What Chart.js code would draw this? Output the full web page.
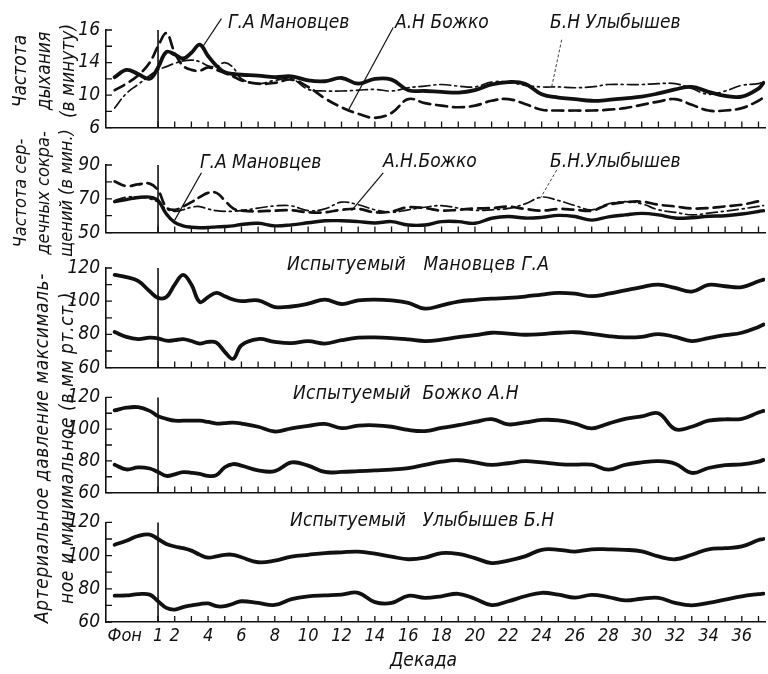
<!DOCTYPE html>
<html lang="ru">
<head>
<meta charset="utf-8">
<script src="https://cdn.jsdelivr.net/npm/chart.js@4"></script>
<style>
  html, body { margin: 0; padding: 0; background: #fff; }
  #wrap { position: relative; width: 768px; height: 674px; overflow: hidden; background: #fff; }
  canvas { position: absolute; left: 0; }
  .t { position: absolute; font-family: 'Liberation Sans Narrow', 'DejaVu Sans Condensed', sans-serif; font-style: italic; color: #111; white-space: pre; line-height: 1; }
  .rot { position: absolute; font-family: 'Liberation Sans Narrow', 'DejaVu Sans Condensed', sans-serif; font-style: italic; color: #111; white-space: pre; text-align: center; transform: translate(-50%, -50%) rotate(-90deg); }
</style>
</head>
<body>
<div id="wrap">
  <canvas id="c1" width="768" height="145" style="top:0px"></canvas>
  <canvas id="c2" width="768" height="105" style="top:145px"></canvas>
  <canvas id="c3" width="768" height="135" style="top:250px"></canvas>
  <canvas id="c4" width="768" height="130" style="top:380px"></canvas>
  <canvas id="c5" width="768" height="169" style="top:505px"></canvas>

  <div class="rot" style="left:43px; top:71px; font-size:19px; line-height:24px;">Частота
дыхания
(в минуту)</div>
  <div class="rot" style="left:42px; top:193px; font-size:18px; line-height:23px;">Частота сер-
дечных сокра-
щений (в мин.)</div>
  <div class="rot" style="left:54px; top:448px; font-size:19px; line-height:25px; letter-spacing:0.6px;">Артериальное давление максималь-
ное и минимальное (в мм рт.ст.)</div>

  <div class="t" style="left:228px; top:12px; font-size:19px;">Г.А Мановцев</div>
  <div class="t" style="left:395px; top:12px; font-size:19px;">А.Н Божко</div>
  <div class="t" style="left:550px; top:12px; font-size:19px;">Б.Н Улыбышев</div>

  <div class="t" style="left:200px; top:152px; font-size:19px;">Г.А Мановцев</div>
  <div class="t" style="left:383px; top:151px; font-size:19px;">А.Н.Божко</div>
  <div class="t" style="left:550px; top:151px; font-size:19px;">Б.Н.Улыбышев</div>

  <div class="t" style="left:287px; top:254px; font-size:19px; letter-spacing:0.4px;">Испытуемый   Мановцев Г.А</div>
  <div class="t" style="left:293px; top:383px; font-size:19px; letter-spacing:0.3px;">Испытуемый  Божко А.Н</div>
  <div class="t" style="left:290px; top:510px; font-size:19px; letter-spacing:0.1px;">Испытуемый   Улыбышев Б.Н</div>
  <div class="t" style="left:390px; top:650px; font-size:19px;">Декада</div>
</div>
<script>
// ---------- DATA ----------
const decades = [-1.6,-0.9,-0.2,0.5,1,1.5,2,2.5,3,3.5,4,4.5,5,5.5,6,7,8,9,10,11,12,13,14,15,16,17,18,19,20,21,22,23,24,25,26,27,28,29,30,31,32,33,34,35,36,37,37.3];

// Частота дыхания (в минуту)
const breathManovtsev = [12.2,13.1,12.6,12.0,13.4,15.3,15.0,14.5,15.2,16.2,14.8,13.6,12.8,12.6,12.5,12.4,12.2,12.3,11.8,11.7,12.1,11.4,12.0,11.9,10.6,10.5,10.4,10.3,10.6,11.3,11.6,11.4,10.1,9.7,9.5,9.3,9.4,9.6,9.8,10.2,10.7,11.0,10.4,9.9,9.8,10.8,11.5];
const breathBozhko    = [10.6,11.4,12.4,14.0,16.0,17.6,15.2,13.6,13.1,13.0,13.4,13.1,12.7,12.3,11.8,11.4,11.5,11.9,11.0,9.6,8.5,7.7,7.2,7.8,9.5,9.0,8.7,8.5,8.7,9.3,9.5,8.9,8.2,8.1,8.1,8.1,8.2,8.4,8.8,9.2,9.5,8.8,8.1,8.1,8.4,9.3,9.7];
const breathUlybyshev = [8.4,10.2,11.3,12.4,13.1,13.5,13.9,14.2,14.3,14.1,13.6,13.5,14.0,13.4,12.0,11.4,11.8,12.0,10.7,10.5,10.5,10.6,10.7,10.5,10.9,11.1,11.3,11.1,11.0,11.6,11.6,11.2,11.0,11.0,10.9,11.0,11.3,11.3,11.3,11.4,11.4,10.8,10.1,10.5,11.2,11.4,11.7];

// Частота сердечных сокращений (в мин.)
const pulseManovtsev = [68.3,69.5,70.8,71.0,69.0,61.0,56.0,54.0,53.2,52.9,53.0,53.4,53.6,54.0,54.8,55.5,54.0,54.6,55.8,57.0,57.0,56.5,55.7,56.5,54.5,54.5,56.5,56.5,55.5,58.5,59.5,58.6,59.0,60.2,59.5,57.4,59.3,60.5,61.4,60.5,58.6,58.8,59.7,60.0,61.0,62.5,63.0];
const pulseBozhko    = [80.3,77.5,78.5,79.0,75.0,65.0,63.5,65.4,68.0,71.0,73.5,73.5,69.0,64.3,63.0,62.6,63.0,63.2,62.0,62.0,63.5,64.0,62.0,62.5,65.0,64.5,63.0,63.5,64.3,64.5,65.4,64.0,63.0,64.0,63.5,63.0,66.5,68.0,68.3,66.5,65.5,64.3,64.5,65.5,66.5,68.5,69.0];
const pulseUlybyshev = [69.0,71.0,71.0,70.0,68.0,64.0,62.6,63.5,65.0,65.4,64.0,63.0,62.6,62.6,63.0,64.5,65.8,65.8,63.0,64.0,68.0,66.5,63.5,62.0,63.5,65.0,66.0,64.5,63.2,63.5,64.3,67.0,71.0,69.0,66.0,63.5,67.0,68.3,67.0,63.5,62.0,60.5,61.5,62.7,64.0,65.5,66.0];

// Артериальное давление (мм рт. ст.): максимальное / минимальное
const bpMaxManovtsev = [115.9,114.5,112.2,106.0,102.0,102.5,110.0,115.9,110.0,99.5,102.5,105.0,103.0,101.0,100.0,100.5,96.5,96.8,98.5,101.0,98.3,100.5,101.0,100.5,99.0,95.5,97.5,99.8,100.8,101.5,102.0,102.8,104.0,105.0,104.5,103.0,104.5,106.5,108.5,110.0,108.0,105.8,109.8,109.0,108.5,112.0,113.0];
const bpMinManovtsev = [81.4,78.5,77.2,78.0,77.6,76.2,76.5,77.2,76.0,74.5,75.5,75.0,69.5,65.3,73.5,77.2,75.5,74.8,76.0,74.5,76.5,78.0,78.2,77.8,77.0,76.0,76.8,78.4,79.5,81.0,80.5,79.8,80.2,81.0,81.3,80.3,79.0,78.2,78.5,80.2,78.5,76.0,77.8,79.5,81.0,84.5,86.0];
const bpMaxBozhko    = [111.8,113.5,113.8,111.5,108.2,106.5,105.3,105.3,105.3,105.3,104.5,103.5,103.8,104.1,103.5,101.5,98.5,100.5,102.0,103.3,100.6,102.2,102.4,101.5,99.5,98.8,100.8,102.5,104.5,106.3,103.0,104.2,105.8,105.5,103.5,100.5,103.5,106.5,108.0,110.0,100.0,101.5,105.3,106.2,106.5,110.5,111.5];
const bpMinBozhko    = [77.6,74.6,75.9,75.2,73.0,70.5,71.5,72.9,72.5,71.8,70.5,71.0,76.0,78.0,77.0,74.0,73.5,79.0,77.0,73.0,73.0,73.5,74.0,74.5,75.5,77.5,79.5,80.4,79.0,77.5,78.5,79.8,79.0,78.0,77.6,77.6,74.5,77.5,79.0,79.8,78.2,72.4,75.5,77.3,77.8,79.5,80.6];
const bpMaxUlybyshev = [106.5,109.0,111.8,112.7,110.0,107.0,105.5,104.5,103.0,100.5,98.8,99.5,100.5,100.5,99.0,96.0,97.0,99.4,100.5,101.5,102.0,102.4,101.2,99.4,97.8,98.8,101.5,101.0,98.5,95.5,97.0,99.5,103.5,103.5,102.4,103.8,103.8,103.5,102.5,99.5,97.8,100.5,103.8,104.5,105.5,109.4,110.0];
const bpMinUlybyshev = [75.9,76.0,76.8,76.5,72.5,68.5,67.5,69.0,70.0,70.8,71.2,69.5,69.5,71.0,72.5,71.5,70.3,73.8,75.5,76.0,76.5,77.6,72.0,71.5,75.8,74.5,75.5,77.0,74.0,70.2,72.5,75.5,77.6,76.5,74.7,76.3,75.0,73.0,74.0,74.5,71.5,70.0,71.5,73.5,75.5,76.8,77.1];

// Tick values and labels
const xTickValues = [-1,1,2,4,6,8,10,12,14,16,18,20,22,24,26,28,30,32,34,36];
const xTickLabels = ['Фон','1','2','4','6','8','10','12','14','16','18','20','22','24','26','28','30','32','34','36'];
const xMarkDecades = [1,2,3,4,5,6,7,8,9,10,11,12,13,14,15,16,17,18,19,20,21,22,23,24,25,26,27,28,29,30,31,32,33,34,35,36,37];
const breathTicks = [6,8,10,12,14,16,18];
const breathTickLabels = ['6','','10','','14','','16'];
const pulseTicks = [50,60,70,80,90];
const pulseTickLabels = ['50','','70','','90'];
const bpTicks = [60,70,80,90,100,110,120];
const bpTickLabels = ['60','','80','','100','','120'];
const startDecade = 1;

// Leader lines (label anchor -> curve point), in data units
const breathLeaders = [
  {x0: 4.8, y0: 19.4, x1: 3.7, y1: 16.0},
  {x0: 15.1, y0: 18.3, x1: 12.4, y1: 8.1},
  {x0: 25.2, y0: 16.8, x1: 24.6, y1: 11.0, thin: true}
];
const pulseLeaders = [
  {x0: 3.6, y0: 85.4, x1: 2.0, y1: 57.4},
  {x0: 14.5, y0: 85.4, x1: 12.6, y1: 63.0},
  {x0: 24.9, y0: 87.0, x1: 23.9, y1: 70.0, thin: true}
];

// ---------- RENDERING ----------
const FONT = "'Liberation Sans Narrow', 'DejaVu Sans Condensed', sans-serif";
const INK = '#111';
const pts = arr => arr.map((v, i) => ({x: decades[i], y: v}));

const decor = {
  id: 'decor',
  afterDraw(chart, args, opts) {
    const ctx = chart.ctx, xs = chart.scales.x, ys = chart.scales.y, a = chart.chartArea;
    ctx.save();
    ctx.strokeStyle = INK;
    ctx.lineWidth = 1.3;
    ctx.beginPath();
    xMarkDecades.forEach(d => {
      const px = xs.getPixelForValue(d);
      ctx.moveTo(px, a.bottom); ctx.lineTo(px, a.bottom - 6);
    });
    (opts.yTicks || []).forEach(v => {
      const py = ys.getPixelForValue(v);
      ctx.moveTo(a.left, py); ctx.lineTo(a.left + 6, py);
    });
    ctx.stroke();
    ctx.lineWidth = 1.6;
    ctx.beginPath();
    const vx = xs.getPixelForValue(startDecade);
    ctx.moveTo(vx, a.top); ctx.lineTo(vx, a.bottom);
    ctx.stroke();
    (opts.leaders || []).forEach(l => {
      ctx.lineWidth = l.thin ? 0.8 : 1.2;
      ctx.setLineDash(l.thin ? [3, 2] : []);
      ctx.beginPath();
      ctx.moveTo(xs.getPixelForValue(l.x0), ys.getPixelForValue(l.y0));
      ctx.lineTo(xs.getPixelForValue(l.x1), ys.getPixelForValue(l.y1));
      ctx.stroke();
    });
    ctx.restore();
  }
};

function makeChart(id, cfg) {
  const last = !!cfg.last;
  return new Chart(document.getElementById(id), {
    type: 'line',
    data: { datasets: cfg.datasets },
    plugins: [decor],
    options: {
      responsive: false,
      animation: false,
      devicePixelRatio: 1,
      layout: { padding: { left: 0, right: 3, top: cfg.pt, bottom: cfg.pb } },
      plugins: {
        legend: { display: false },
        tooltip: { enabled: false },
        decor: { yTicks: cfg.yTicks, leaders: cfg.leaders || [] }
      },
      elements: { point: { radius: 0 }, line: { tension: 0.4, borderCapStyle: 'round', borderJoinStyle: 'round' } },
      scales: {
        x: {
          type: 'linear', min: -2.12, max: 37.39,
          afterFit: s => { s.height = last ? 52 : 0; },
          afterBuildTicks: s => { s.ticks = xTickValues.map(v => ({value: v})); },
          grid: { display: false, drawTicks: false },
          border: { display: true, color: INK, width: 1.6 },
          ticks: {
            display: last, autoSkip: false, maxRotation: 0, padding: 4, color: INK,
            font: { family: FONT, size: 18, style: 'italic' },
            callback: (v, i) => xTickLabels[i]
          }
        },
        y: {
          type: 'linear', min: cfg.yTicks[0], max: cfg.yTicks[cfg.yTicks.length - 1],
          afterFit: s => { s.width = 106; },
          afterBuildTicks: s => { s.ticks = cfg.yTicks.map(v => ({value: v})); },
          grid: { display: false, drawTicks: false },
          border: { display: true, color: INK, width: 1.6 },
          ticks: {
            padding: 6, color: INK, autoSkip: false,
            font: { family: FONT, size: 19, style: 'italic' },
            callback: (v, i) => cfg.yLabels[i]
          }
        }
      }
    }
  });
}

const solid  = (data, w) => ({ data: pts(data), borderColor: INK, borderWidth: w || 3.8, fill: false });
const dashed = (data) => ({ data: pts(data), borderColor: INK, borderWidth: 2.7, borderDash: [11, 6], fill: false });
const dashdot = (data) => ({ data: pts(data), borderColor: INK, borderWidth: 1.7, borderDash: [11, 4, 2, 4], fill: false });

makeChart('c1', { pt: 30, pb: 12, yTicks: breathTicks, yLabels: breathTickLabels, leaders: breathLeaders,
  datasets: [solid(breathManovtsev), dashed(breathBozhko), dashdot(breathUlybyshev)] });
makeChart('c2', { pt: 20, pb: 15, yTicks: pulseTicks, yLabels: pulseTickLabels, leaders: pulseLeaders,
  datasets: [solid(pulseManovtsev, 3.4), dashed(pulseBozhko), dashdot(pulseUlybyshev)] });
makeChart('c3', { pt: 18, pb: 16, yTicks: bpTicks, yLabels: bpTickLabels,
  datasets: [solid(bpMaxManovtsev), solid(bpMinManovtsev)] });
makeChart('c4', { pt: 15, pb: 13, yTicks: bpTicks, yLabels: bpTickLabels,
  datasets: [solid(bpMaxBozhko), solid(bpMinBozhko)] });
makeChart('c5', { pt: 15, pb: 0, yTicks: bpTicks, yLabels: bpTickLabels, last: true,
  datasets: [solid(bpMaxUlybyshev), solid(bpMinUlybyshev)] });
</script>
</body>
</html>
